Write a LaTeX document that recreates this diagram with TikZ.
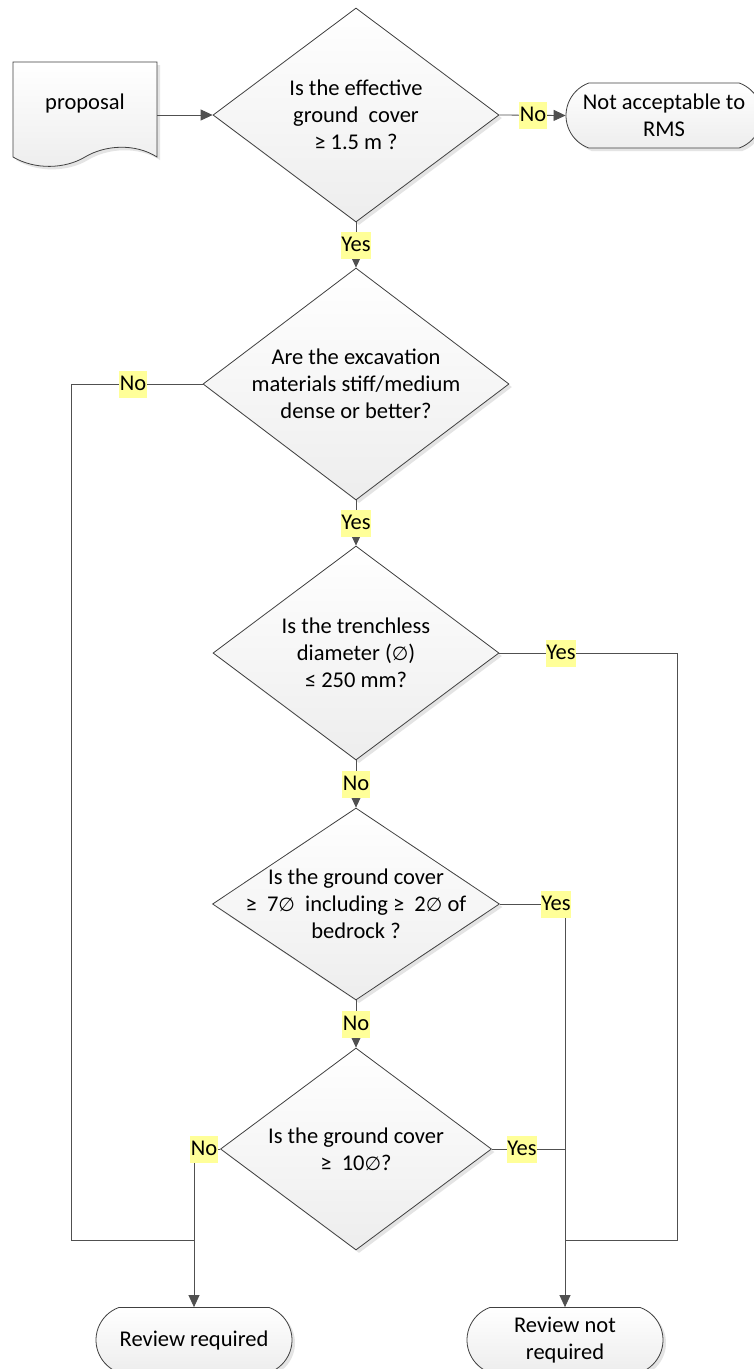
\documentclass[tikz,border=0pt]{standalone}
\usepackage{fontspec}
\setmainfont{Carlito}
\newfontfamily\symf{DejaVu Sans}
\newcommand\dia{{\symf\fontsize{19}{27}\selectfont ∅}}
\usetikzlibrary{shapes.geometric,shapes.misc,arrows.meta,shadows,backgrounds}
\definecolor{lblyellow}{HTML}{FFFF99}
\definecolor{edgecol}{HTML}{404040}
\definecolor{conncol}{HTML}{505050}
\definecolor{shadecol}{HTML}{E4E4E4}
\newcommand\drawconns[1]{%
  \draw[arr,#1] (prop.east |- d1.west) -- (d1.west);
  \draw[arr,#1] (d1.east) -- (na.west);
  \draw[arr,#1] (d1.south) -- (d2.north);
  \draw[connline,#1] (d2.west) -- (d2.west -| lx) -- (lx) -- (lx -| rr.north);
  \draw[arr,#1] (d2.south) -- (d3.north);
  \draw[connline,#1] (d3.east) -- (d3.east -| rx) -- (rx) -- (rx -| rnr.north);
  \draw[arr,#1] (d3.south) -- (d4.north);
  \draw[arr,#1] (d4.east) -- (d4.east -| rnr.north) -- (rnr.north);
  \draw[arr,#1] (d4.south) -- (d5.north);
  \draw[arr,#1] (d5.west) -- (d5.west -| rr.north) -- (rr.north);
  \draw[connline,#1] (d5.east) -- (d5.east -| rnr.north);
}
\begin{document}
\begin{tikzpicture}[x=1pt,y=-1pt,
  font=\fontsize{22.5}{27}\selectfont,
  nodeshadow/.style={drop shadow={shadow xshift=3pt,shadow yshift=-3pt,fill=shadecol,opacity=1}},
  decision/.style 2 args={diamond, minimum width=#1pt, minimum height=#2pt, inner sep=0pt,
    draw=edgecol, line width=0.8pt, top color=white, bottom color=black!7, nodeshadow},
  terminal/.style={rounded rectangle, rounded rectangle arc length=140, minimum width=196pt,
    minimum height=65pt, inner sep=0pt, draw=edgecol, line width=0.8pt, top color=white,
    bottom color=black!7, nodeshadow, align=center},
  qtext/.style={align=center, inner sep=0pt},
  lbl/.style={fill=lblyellow, inner xsep=0.5pt, inner ysep=0pt, text height=20pt, text depth=7pt},
  connline/.style={draw=conncol, line width=0.8pt},
  arr/.style={connline, -{Triangle[length=12pt,width=11pt]}},
]
\fill[white] (0,0) rectangle (753,1369);
\useasboundingbox (0,0) rectangle (753,1369);

% proposal (document shape)
\fill[shadecol, shift={(3,3)}] (13,62) -- (157,62) -- (157,157)
  .. controls (135,143) and (105,145) .. (85,157)
  .. controls (65,169) and (35,170) .. (13,157) -- cycle;
\path[draw=edgecol, line width=0.8pt, top color=white, bottom color=black!7]
  (13,62) -- (157,62) -- (157,157)
  .. controls (135,143) and (105,145) .. (85,157)
  .. controls (65,169) and (35,170) .. (13,157) -- cycle;
\node[minimum width=144pt, minimum height=95pt, inner sep=0pt] (prop) at (85,109.5) {};
\node[qtext] (propt) at (85,103) {proposal};

% decisions
\node[decision={286}{214}] (d1) at (356,115) {};
\node[qtext] (t1) at (d1.center) {Is the effective\\ground\ \ cover\\≥ 1.5 m ?};
\node[decision={306}{232}] (d2) at (356,384) {};
\node[qtext] (t2) at (d2.center) {Are the excavation\\materials stiff/medium\\dense or better?};
\node[decision={286}{214}] (d3) at (356,653) {};
\node[qtext] (t3) at (d3.center) {Is the trenchless\\diameter (\dia)\\≤ 250 mm?};
\node[decision={287}{192}] (d4) at (356,904) {};
\node[qtext] (t4) at (d4.center) {Is the ground cover\\≥\ \ 7\dia\ \ including ≥\ \ 2\dia\ of\\bedrock ?};
\node[decision={271}{202}] (d5) at (356,1149) {};
\node[qtext] (t5) at (d5.center) {Is the ground cover\\≥\ \ 10\dia?};

% terminals
\node[terminal] (na) at (664,115.5) {Not acceptable to\\RMS};
\node[terminal] (rr) at (194,1340) {Review required};
\node[terminal] (rnr) at (565,1340) {Review not\\required};

% routing points
\coordinate (lx) at (71,1240);
\coordinate (rx) at (677,1240);

% connector shadows
\begin{scope}[on background layer]
\begin{scope}[transform canvas={shift={(3pt,-3pt)}}]
\drawconns{draw=shadecol}
\end{scope}
\end{scope}
% connectors
\drawconns{}

% labels
\node[lbl] (l1) at (533,115) {No};
\node[lbl] (l2) at (356,245) {Yes};
\node[lbl] (l3) at (133,384) {No};
\node[lbl] (l4) at (356,523) {Yes};
\node[lbl] (l5) at (561,653) {Yes};
\node[lbl] (l6) at (356,784) {No};
\node[lbl] (l7) at (556,904) {Yes};
\node[lbl] (l8) at (356,1024) {No};
\node[lbl] (l9) at (204,1149) {No};
\node[lbl] (l10) at (522,1149) {Yes};
\end{tikzpicture}
\end{document}
